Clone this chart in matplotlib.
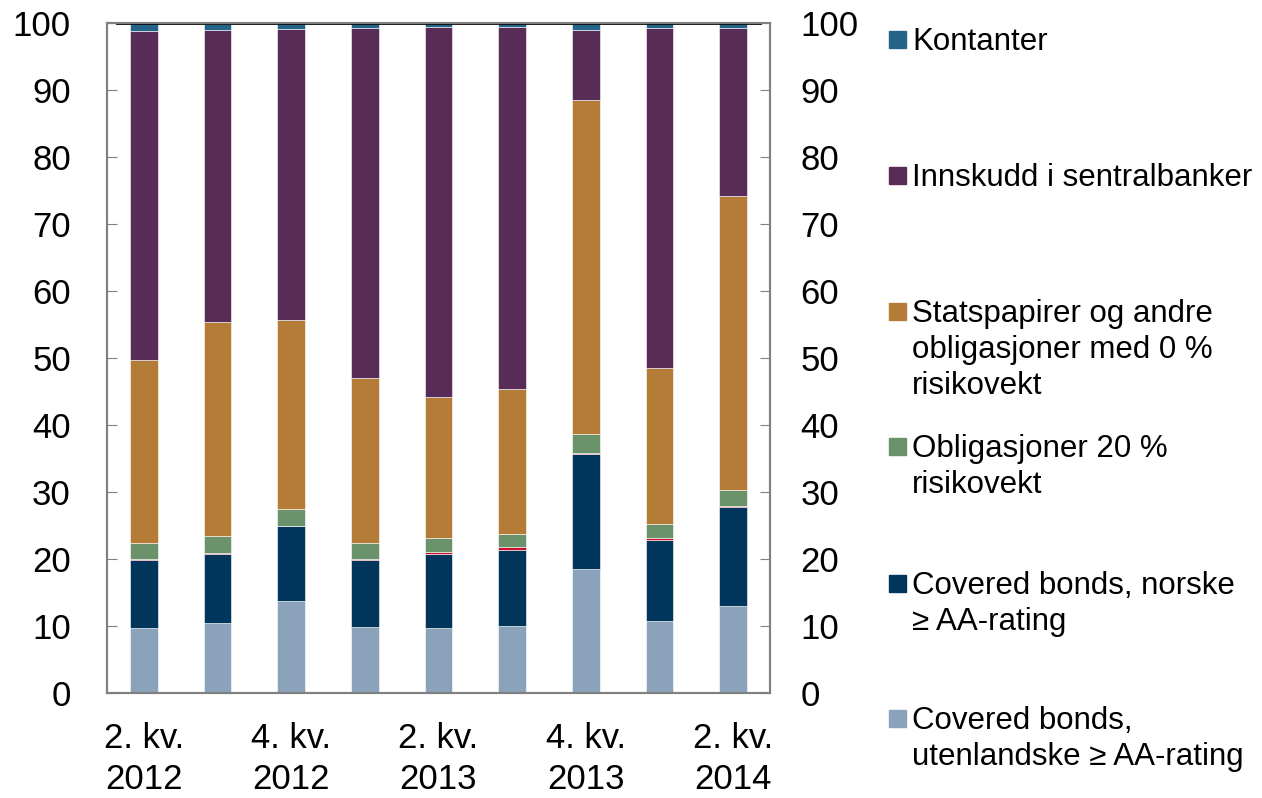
import matplotlib.pyplot as plt
import numpy as np
from matplotlib.patches import Rectangle

plt.rcParams['font.family'] = ['Liberation Sans', 'DejaVu Sans']

# Quarters (only every other labelled)
quarters = ['2. kv.\n2012', '3. kv.\n2012', '4. kv.\n2012', '1. kv.\n2013', '2. kv.\n2013',
            '3. kv.\n2013', '4. kv.\n2013', '1. kv.\n2014', '2. kv.\n2014']

# Shares in percent, bottom to top
cov_foreign = [9.7, 10.4, 13.7, 9.9, 9.7, 10.0, 18.5, 10.7, 13.0]
cov_norw = [10.1, 10.3, 11.2, 9.9, 11.0, 11.4, 17.1, 12.1, 14.7]
other = [0.2, 0.2, 0.1, 0.2, 0.4, 0.4, 0.2, 0.3, 0.2]
bonds20 = [2.4, 2.5, 2.5, 2.4, 2.0, 2.0, 2.8, 2.1, 2.4]
govt = [27.3, 31.9, 28.2, 24.6, 21.1, 21.6, 49.9, 23.3, 43.9]
cb_dep = [49.1, 43.7, 43.4, 52.2, 55.2, 54.0, 10.4, 50.8, 25.1]
cash = [1.2, 0.8, 0.9, 0.8, 0.6, 0.6, 1.1, 0.7, 0.7]

series = [cov_foreign, cov_norw, other, bonds20, govt, cb_dep, cash]
colors = ['#8BA3BA', '#00355C', '#C8102E', '#6A926B', '#B57C38', '#582C56', '#246488']
labels = ['Covered bonds,\nutenlandske ≥ AA-rating', 'Covered bonds, norske\n≥ AA-rating', None,
          'Obligasjoner 20 %\nrisikovekt', 'Statspapirer og andre\nobligasjoner med 0 %\nrisikovekt',
          'Innskudd i sentralbanker', 'Kontanter']

fig = plt.figure(figsize=(12.62, 7.98), dpi=100)
ax = fig.add_axes([107/1262, 105/798, 663/1262, 670/798])

x = np.arange(len(quarters))
bottom = np.zeros(len(quarters))
for vals, col in zip(series, colors):
    ax.bar(x, vals, width=0.38, bottom=bottom, color=col, edgecolor='white', linewidth=0.4)
    bottom += np.array(vals)

ax.set_xlim(-0.5, len(quarters) - 0.5)
ax.set_ylim(0, 100)
ax.set_yticks(range(0, 101, 10))
ax.tick_params(axis='y', direction='in', length=7, color='#808080', labelsize=25, pad=26)
ax.set_xticks(x[::2])
ax.set_xticklabels(quarters[::2], fontsize=25, linespacing=1.3)
ax.tick_params(axis='x', length=0, pad=21)

ax2 = ax.twinx()
ax2.set_ylim(0, 100)
ax2.set_yticks(range(0, 101, 10))
ax2.tick_params(axis='y', direction='in', length=7, color='#808080', labelsize=25, pad=22)

for a in (ax, ax2):
    for s in a.spines.values():
        s.set_color('#808080')
        s.set_linewidth(1.5)
ax.axhline(100, color='black', linewidth=2, xmin=0.015, xmax=0.985)

# Legend on the right, one text per line
leg_y = [39, 175, 311, 446, 583, 718]
leg_idx = [6, 5, 4, 3, 1, 0]
line_step = 36
for yy, i in zip(leg_y, leg_idx):
    fig.patches.append(Rectangle((889/1262, 1 - (yy + 8.5)/798), 17/1262, 17/798,
                                 transform=fig.transFigure, color=colors[i]))
    for k, line in enumerate(labels[i].split('\n')):
        fig.text(912/1262, 1 - (yy + k * line_step + 11)/798, line, fontsize=22.5,
                 va='baseline', ha='left', transform=fig.transFigure)

fig.savefig('out.png', dpi=100, facecolor='white')
